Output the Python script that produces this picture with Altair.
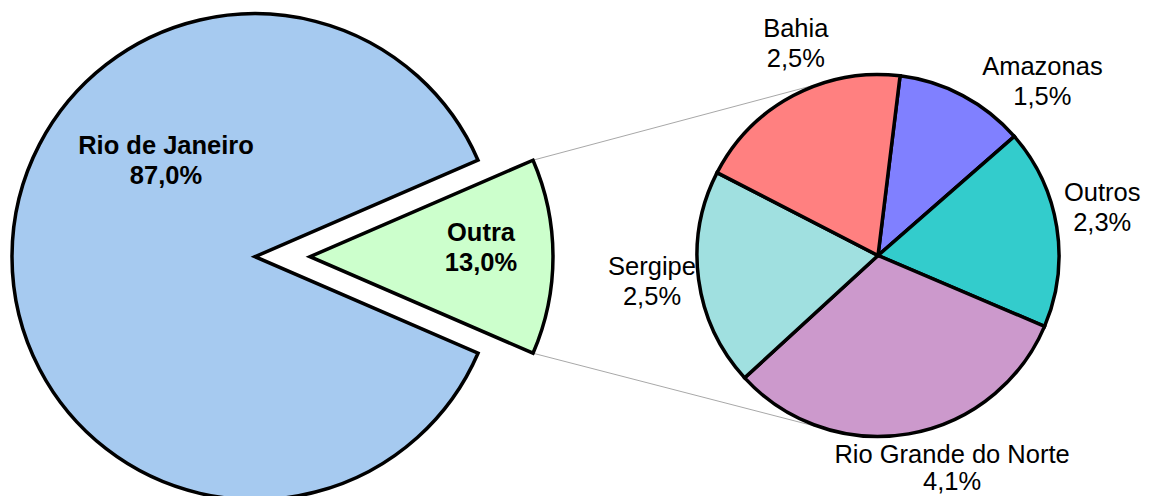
import math
import altair as alt
import pandas as pd

# ---------------- data ----------------
cats_main = ["Outra", "Rio de Janeiro"]
vals_main = [13.0, 87.0]

cats_sub = ["Amazonas", "Outros", "Rio Grande do Norte", "Sergipe", "Bahia"]
vals_sub = [1.5, 2.3, 4.1, 2.5, 2.5]

# ---------------- style ----------------
colors_main = ["#CCFFCC", "#A6CAF0"]
colors_sub = ["#8080FF", "#33CCCC", "#CC99CC", "#A0E0E0", "#FF8080"]

W, H = 1136, 488
FONT = "Liberation Sans"
FS = 25.5
LH = 30

L_CX, L_CY, L_R = 247.0, 248.7, 243.0   # main pie centre / radius
EXPLODE = 55.0                          # offset of the exploded slice
R_CX, R_CY, R_R = 870.0, 247.5, 181.0   # secondary pie
SUB_START_DEG = 7.0

# label placement: radius from pie centre, nudge (dx, dy), line height
label_layout = {
    "Rio de Janeiro": (100, 11, -103, LH),
    "Outra": (171, 0, -16, LH),
    "Amazonas": (225, 59, 18, LH),
    "Outros": (225, 2, -19, LH),
    "Rio Grande do Norte": (225, 36, -14, 27),
    "Sergipe": (225, -3, -10, LH),
    "Bahia": (225, 23, -20, LH),
}


def pct(v):
    return f"{v:.1f}".replace(".", ",") + "%"


def table(cats, vals):
    df = pd.DataFrame({"cat": cats, "val": vals})
    df["fim"] = df["val"].cumsum()
    df["ini"] = df["fim"] - df["val"]
    df["mid"] = (df["ini"] + df["fim"]) / 2
    df["label"] = [f"{c}\n{pct(v)}" for c, v in zip(cats, vals)]
    return df


main = table(cats_main, vals_main)
sub = table(cats_sub, vals_sub)
main_total = float(sum(vals_main))
sub_total = float(sum(vals_sub))

outra_span = vals_main[0] / main_total * 2 * math.pi
main_start = math.pi / 2 - outra_span / 2
main_theta = alt.Scale(domain=[0, main_total], range=[main_start, main_start + 2 * math.pi])
sub_start = math.radians(SUB_START_DEG)
sub_theta = alt.Scale(domain=[0, sub_total], range=[sub_start, sub_start + 2 * math.pi])

color_scale = alt.Scale(domain=cats_main + cats_sub, range=colors_main + colors_sub)
O_CX = L_CX + EXPLODE


def arcs(df, scale, cx, cy, r, cat=None):
    ch = alt.Chart(df)
    if cat is not None:
        ch = ch.transform_filter(alt.datum.cat == cat)
    return ch.mark_arc(radius=r, stroke="black", strokeWidth=3.5, strokeJoin="miter").encode(
        theta=alt.Theta("ini:Q", scale=scale, stack=False),
        theta2="fim:Q",
        color=alt.Color("cat:N", scale=color_scale, legend=None),
        x=alt.value(cx),
        y=alt.value(cy),
    )


def label(df, cat, scale, cx, cy, bold):
    r, dx, dy, lh = label_layout[cat]
    return alt.Chart(df).transform_filter(alt.datum.cat == cat).mark_text(
        radius=r, dx=dx, dy=dy, align="center", baseline="alphabetic",
        font=FONT, fontSize=FS, fontWeight="bold" if bold else "normal",
        lineBreak="\n", lineHeight=lh, color="black",
    ).encode(
        theta=alt.Theta("mid:Q", scale=scale, stack=False),
        text="label:N",
        x=alt.value(cx),
        y=alt.value(cy),
    )


# connector lines: tangents from exploded slice corners to the secondary pie
def corner(angle):
    return (O_CX + L_R * math.sin(angle), L_CY - L_R * math.cos(angle))


def tangent(px, py, upper):
    vx, vy = px - R_CX, py - R_CY
    d = math.hypot(vx, vy)
    phi = math.acos(R_R / d)
    base = math.atan2(vy, vx)
    pts = [(R_CX + R_R * math.cos(base + s * phi), R_CY + R_R * math.sin(base + s * phi)) for s in (1, -1)]
    return min(pts, key=lambda p: p[1]) if upper else max(pts, key=lambda p: p[1])


line_layers = []
for ang, upper in ((main_start, True), (main_start + outra_span, False)):
    px, py = corner(ang)
    tx, ty = tangent(px, py, upper)
    line_layers.append(
        alt.Chart(alt.Data(values=[{"k": 0}])).mark_rule(color="#A8A8A8", strokeWidth=1).encode(
            x=alt.value(px), y=alt.value(py), x2=alt.value(tx), y2=alt.value(ty)
        )
    )

layers = line_layers + [
    arcs(main, main_theta, L_CX, L_CY, L_R, cat="Rio de Janeiro"),
    arcs(main, main_theta, O_CX, L_CY, L_R, cat="Outra"),
    arcs(sub, sub_theta, R_CX, R_CY, R_R),
    label(main, "Rio de Janeiro", main_theta, L_CX, L_CY, True),
    label(main, "Outra", main_theta, O_CX, L_CY, True),
] + [label(sub, c, sub_theta, R_CX, R_CY, False) for c in cats_sub]

chart = alt.layer(*layers).resolve_scale(theta="independent").properties(
    width=W, height=H, padding=0, autosize="none"
).configure_view(stroke="transparent")

chart.save("out.html", embed_options={"renderer": "svg", "actions": False})
